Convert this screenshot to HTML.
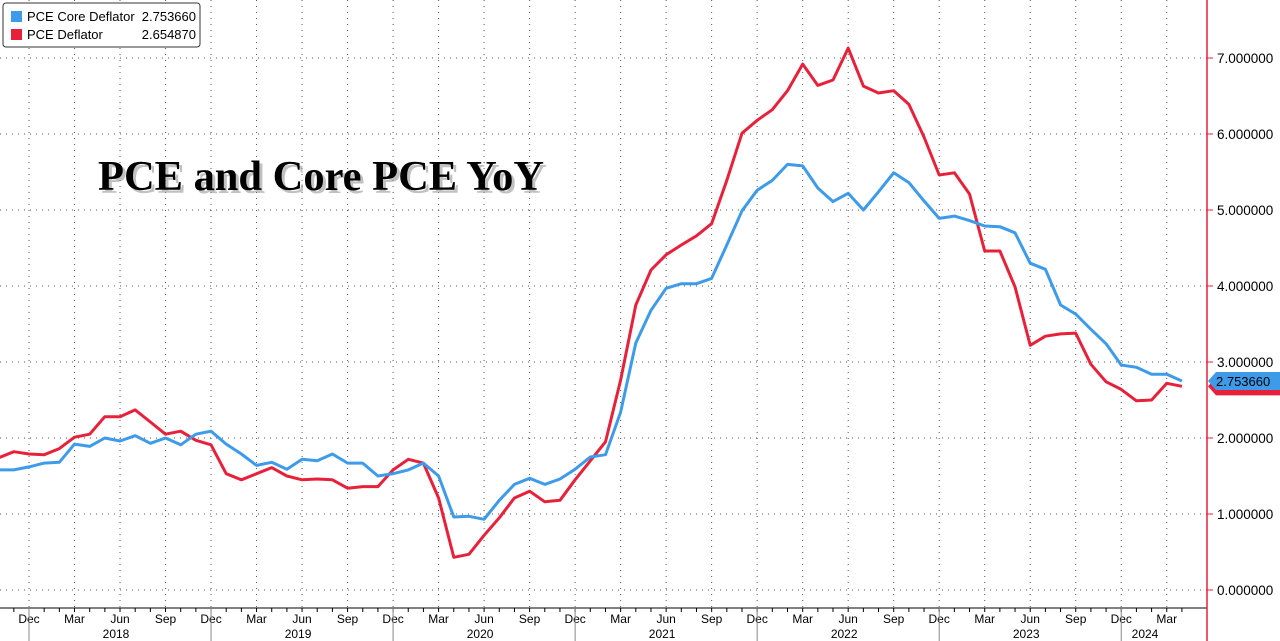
<!DOCTYPE html>
<html><head><meta charset="utf-8"><style>
html,body{margin:0;padding:0;background:#fff;}
svg{display:block;font-family:"Liberation Sans",sans-serif;}
</style></head><body>
<svg id="chart" width="1280" height="641" viewBox="0 0 1280 641">
<g id="grid"></g>
<g id="xaxis"></g>
<g id="yaxis"></g>
<g id="series"></g>
<text x="98" y="190" font-family="Liberation Serif,serif" font-weight="bold" font-size="42" textLength="446" lengthAdjust="spacingAndGlyphs" fill="#999" opacity="0.6" transform="translate(3,3)">PCE and Core PCE YoY</text>
<text x="98" y="190" font-family="Liberation Serif,serif" font-weight="bold" font-size="42" textLength="446" lengthAdjust="spacingAndGlyphs" fill="#000">PCE and Core PCE YoY</text>
<g>
<rect x="3" y="3" width="197" height="44" rx="3" fill="#fff" stroke="#333"/>
<rect x="11" y="11" width="11" height="11" fill="#3d9be9"/>
<text x="27" y="21" font-size="13" fill="#000">PCE Core Deflator</text>
<text x="196" y="21" font-size="13" fill="#000" text-anchor="end">2.753660</text>
<rect x="11" y="29" width="11" height="11" fill="#e8213b"/>
<text x="27" y="39" font-size="13" fill="#000">PCE Deflator</text>
<text x="196" y="39" font-size="13" fill="#000" text-anchor="end">2.654870</text>
</g>
</svg>
<script>
const core=[1.58,1.58,1.62,1.67,1.68,1.92,1.89,2.0,1.96,2.03,1.93,2.0,1.91,2.05,2.09,1.92,1.79,1.64,1.68,1.59,1.72,1.70,1.79,1.67,1.67,1.50,1.53,1.58,1.67,1.50,0.96,0.97,0.93,1.18,1.39,1.47,1.39,1.46,1.59,1.75,1.78,2.34,3.25,3.68,3.97,4.03,4.03,4.1,4.54,4.99,5.26,5.39,5.6,5.58,5.29,5.11,5.22,5.0,5.24,5.49,5.36,5.12,4.89,4.92,4.86,4.79,4.78,4.7,4.30,4.22,3.75,3.63,3.43,3.24,2.96,2.93,2.84,2.84,2.75];
const pce=[1.74,1.82,1.79,1.78,1.86,2.01,2.05,2.28,2.28,2.37,2.21,2.05,2.09,1.97,1.91,1.53,1.45,1.53,1.61,1.50,1.45,1.46,1.45,1.34,1.36,1.36,1.58,1.72,1.67,1.21,0.43,0.47,0.72,0.95,1.21,1.30,1.16,1.18,1.45,1.70,1.95,2.76,3.75,4.21,4.41,4.54,4.66,4.82,5.39,6.01,6.18,6.32,6.57,6.92,6.64,6.71,7.13,6.63,6.54,6.57,6.39,5.96,5.46,5.49,5.21,4.46,4.46,3.99,3.22,3.34,3.37,3.38,2.97,2.74,2.64,2.49,2.50,2.72,2.68];
const yTicks=[0,1,2,3,4,5,6,7];
const quarterLabels=["Dec","Mar","Jun","Sep"];
const years=["2018","2019","2020","2021","2022","2023","2024"];
const NS="http://www.w3.org/2000/svg";
function X(i){return 29+(i-2)*15.17;}
function Y(v){return 590-76*v;}
function mk(tag,attrs,parent){const e=document.createElementNS(NS,tag);for(const k in attrs)e.setAttribute(k,attrs[k]);parent.appendChild(e);return e;}
const grid=document.getElementById('grid'),xa=document.getElementById('xaxis'),ya=document.getElementById('yaxis'),ser=document.getElementById('series');
yTicks.forEach(v=>{
 const l=mk('line',{x1:0,x2:1207,y1:Y(v),y2:Y(v),stroke:'#555','stroke-width':1,'stroke-dasharray':'1 5'},grid);
 
 
 const t=mk('line',{x1:1207,x2:1213,y1:Y(v),y2:Y(v),stroke:'#e8213b','stroke-width':1},ya);
 
 
 const tx=mk('text',{x:1217,y:Y(v)+5,'font-size':13.5,fill:'#000'},ya);
 tx.textContent=v.toFixed(6);
 
 
});
const ax=mk('line',{x1:1207,x2:1207,y1:0,y2:641,stroke:'#e8213b','stroke-width':1.5},ya);


const bx=mk('line',{x1:0,x2:1207,y1:608,y2:608,stroke:'#000','stroke-width':1},xa);


for(let i=0;i<core.length;i++){
 const t=mk('line',{x1:X(i),x2:X(i),y1:608,y2:612,stroke:'#000'},xa);
 
 
}
for(let q=0;q<26;q++){
 const i=2+q*3,x=X(i);
 const g=mk('line',{x1:x,x2:x,y1:0,y2:608,stroke:'#555','stroke-dasharray':'1 5'},grid);
 
 
 const t=mk('text',{x:x,y:623,'font-size':12,'text-anchor':'middle',fill:'#000'},xa);
 t.textContent=quarterLabels[q%4];
 
 
 if(q%4===0){
  const s=mk('line',{x1:x,x2:x,y1:608,y2:641,stroke:'#888'},xa);
  
  
 }
}
years.forEach((y,k)=>{
 const t=mk('text',{x:Math.min(X(8+12*k)-4,1145),y:638,'font-size':12,'text-anchor':'middle',fill:'#000'},xa);
 t.textContent=y;
 
 
});
function line(d,col,name){
 const p=mk('polyline',{points:d.map((v,i)=>X(i).toFixed(1)+','+Y(v).toFixed(1)).join(' '),fill:'none',stroke:col,'stroke-width':3,'stroke-linejoin':'round'},ser);
 
 
}
line(pce,'#e8213b','pce-deflator-line');
line(core,'#3d9be9','pce-core-line');
const lv=pce[pce.length-1],cv=core[core.length-1];
const rt=mk('polygon',{points:`1208,${Y(lv)} 1216,${Y(lv)-9} 1280,${Y(lv)-9} 1280,${Y(lv)+9} 1216,${Y(lv)+9}`,fill:'#e8213b'},ya);


const bt=mk('polygon',{points:`1208,${Y(cv)} 1216,${Y(cv)-9} 1280,${Y(cv)-9} 1280,${Y(cv)+9} 1216,${Y(cv)+9}`,fill:'#3d9be9'},ya);


const bl=mk('text',{x:1216,y:Y(cv)+5,'font-size':13,fill:'#000'},ya);
bl.textContent=cv.toFixed(6).replace('2.750000','2.753660');


</script>
</body></html>
